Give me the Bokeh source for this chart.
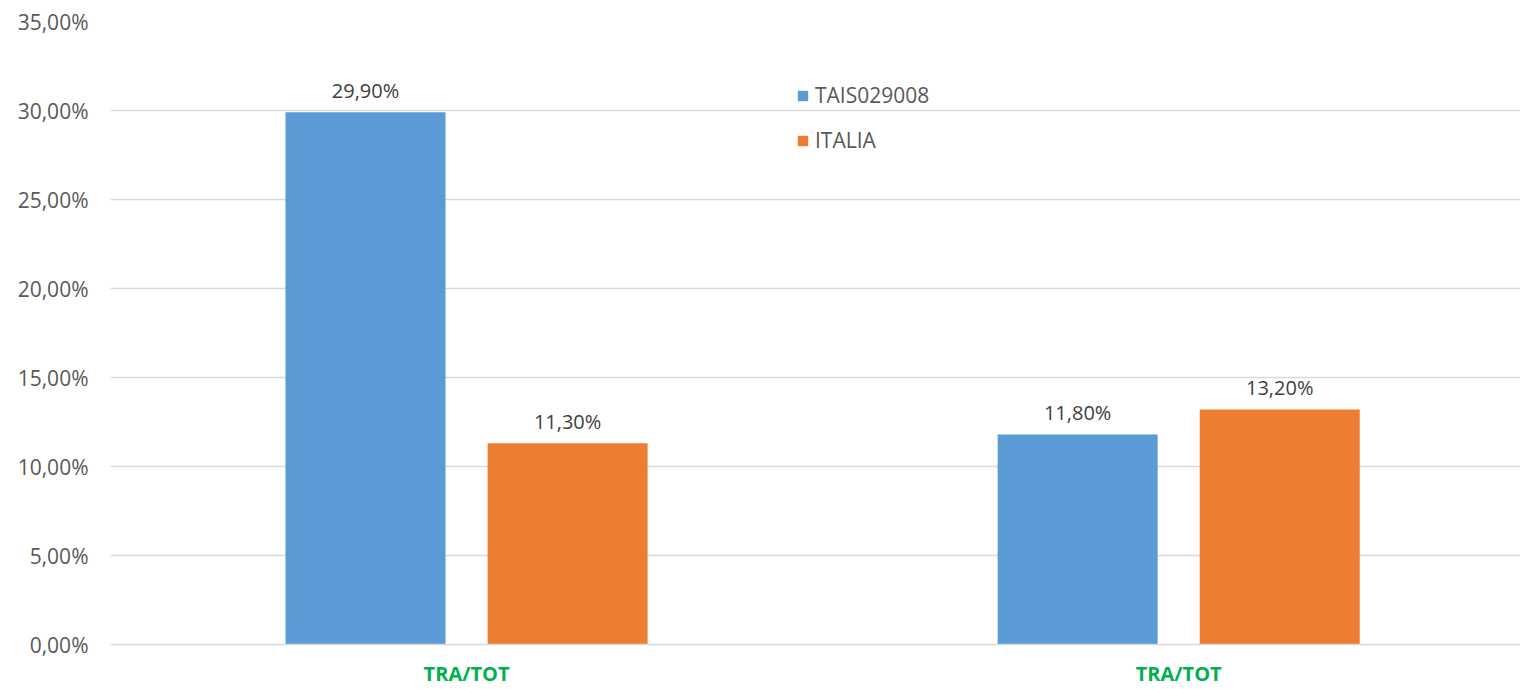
from bokeh.plotting import figure
from bokeh.models import (ColumnDataSource, Range1d, FixedTicker, LabelSet,
                          Legend, LegendItem)
from bokeh.core.properties import value
from bokeh.embed import file_html
from bokeh.resources import INLINE

# ---- data ----
categories = ["TRA/TOT", "TRA/TOT"]
series_names = ["TAIS029008", "ITALIA"]
tais_values = [29.90, 11.80]
italia_values = [11.30, 13.20]
y_ticks = [0, 5, 10, 15, 20, 25, 30, 35]

colors = ["#5B9BD5", "#ED7D31"]
FONT = "Open Sans"

def pct(v):
    return f"{v:.2f}".replace(".", ",") + "%"

idx = list(range(len(categories)))
bar_w = 0.2247
off = 0.1419

p = figure(width=1520, height=689, output_backend="svg", toolbar_location=None,
           x_range=Range1d(-0.5, 1.480), y_range=Range1d(0, 35),
           min_border_left=110, min_border_right=0, min_border_top=21,
           min_border_bottom=45)
p.outline_line_color = None
p.background_fill_color = "white"

renderers = []
for k, vals in enumerate([tais_values, italia_values]):
    xs = [i + (-off if k == 0 else off) for i in idx]
    src = ColumnDataSource(dict(x=xs, top=vals, lab=[pct(v) for v in vals]))
    r = p.vbar(x="x", top="top", width=bar_w, bottom=0, source=src,
               fill_color=colors[k], line_color=None)
    renderers.append(r)
    p.add_layout(LabelSet(x="x", y="top", text="lab", source=src,
                          y_offset=22, text_align="center", text_baseline="middle",
                          text_font=value(FONT), text_font_size="20px",
                          text_color="#404040"))

# y axis
p.yaxis.ticker = FixedTicker(ticks=y_ticks)
p.yaxis.major_label_overrides = {t: pct(t) for t in y_ticks}
p.yaxis.axis_line_color = None
p.yaxis.major_tick_line_color = None
p.yaxis.minor_tick_line_color = None
p.yaxis.major_tick_out = 0
p.yaxis.major_label_standoff = 22
p.yaxis.major_label_text_font = FONT
p.yaxis.major_label_text_font_size = "21px"
p.yaxis.major_label_text_color = "#595959"

# x axis
p.xaxis.ticker = FixedTicker(ticks=idx)
p.xaxis.major_label_overrides = {i: c for i, c in zip(idx, categories)}
p.xaxis.axis_line_color = "#D9D9D9"
p.xaxis.axis_line_width = 1.5
p.xaxis.major_tick_line_color = None
p.xaxis.minor_tick_line_color = None
p.xaxis.major_tick_out = 0
p.xaxis.major_label_standoff = 15
p.xaxis.major_label_text_font = FONT
p.xaxis.major_label_text_font_size = "20px"
p.xaxis.major_label_text_font_style = "bold"
p.xaxis.major_label_text_color = "#00B050"

p.xgrid.grid_line_color = None
p.ygrid.ticker = FixedTicker(ticks=y_ticks)
p.ygrid.grid_line_color = "#D9D9D9"
p.ygrid.grid_line_width = 1.5

legend = Legend(items=[LegendItem(label=n, renderers=[r]) for n, r in zip(series_names, renderers)],
                location=(686, 490), orientation="vertical",
                glyph_width=13, glyph_height=13, label_height=20, spacing=17,
                padding=0, margin=0, label_standoff=6,
                label_text_font=FONT, label_text_font_size="21px",
                label_text_color="#595959",
                border_line_color=None, background_fill_alpha=0)
p.add_layout(legend)

open("out.html", "w").write(file_html(p, INLINE))
